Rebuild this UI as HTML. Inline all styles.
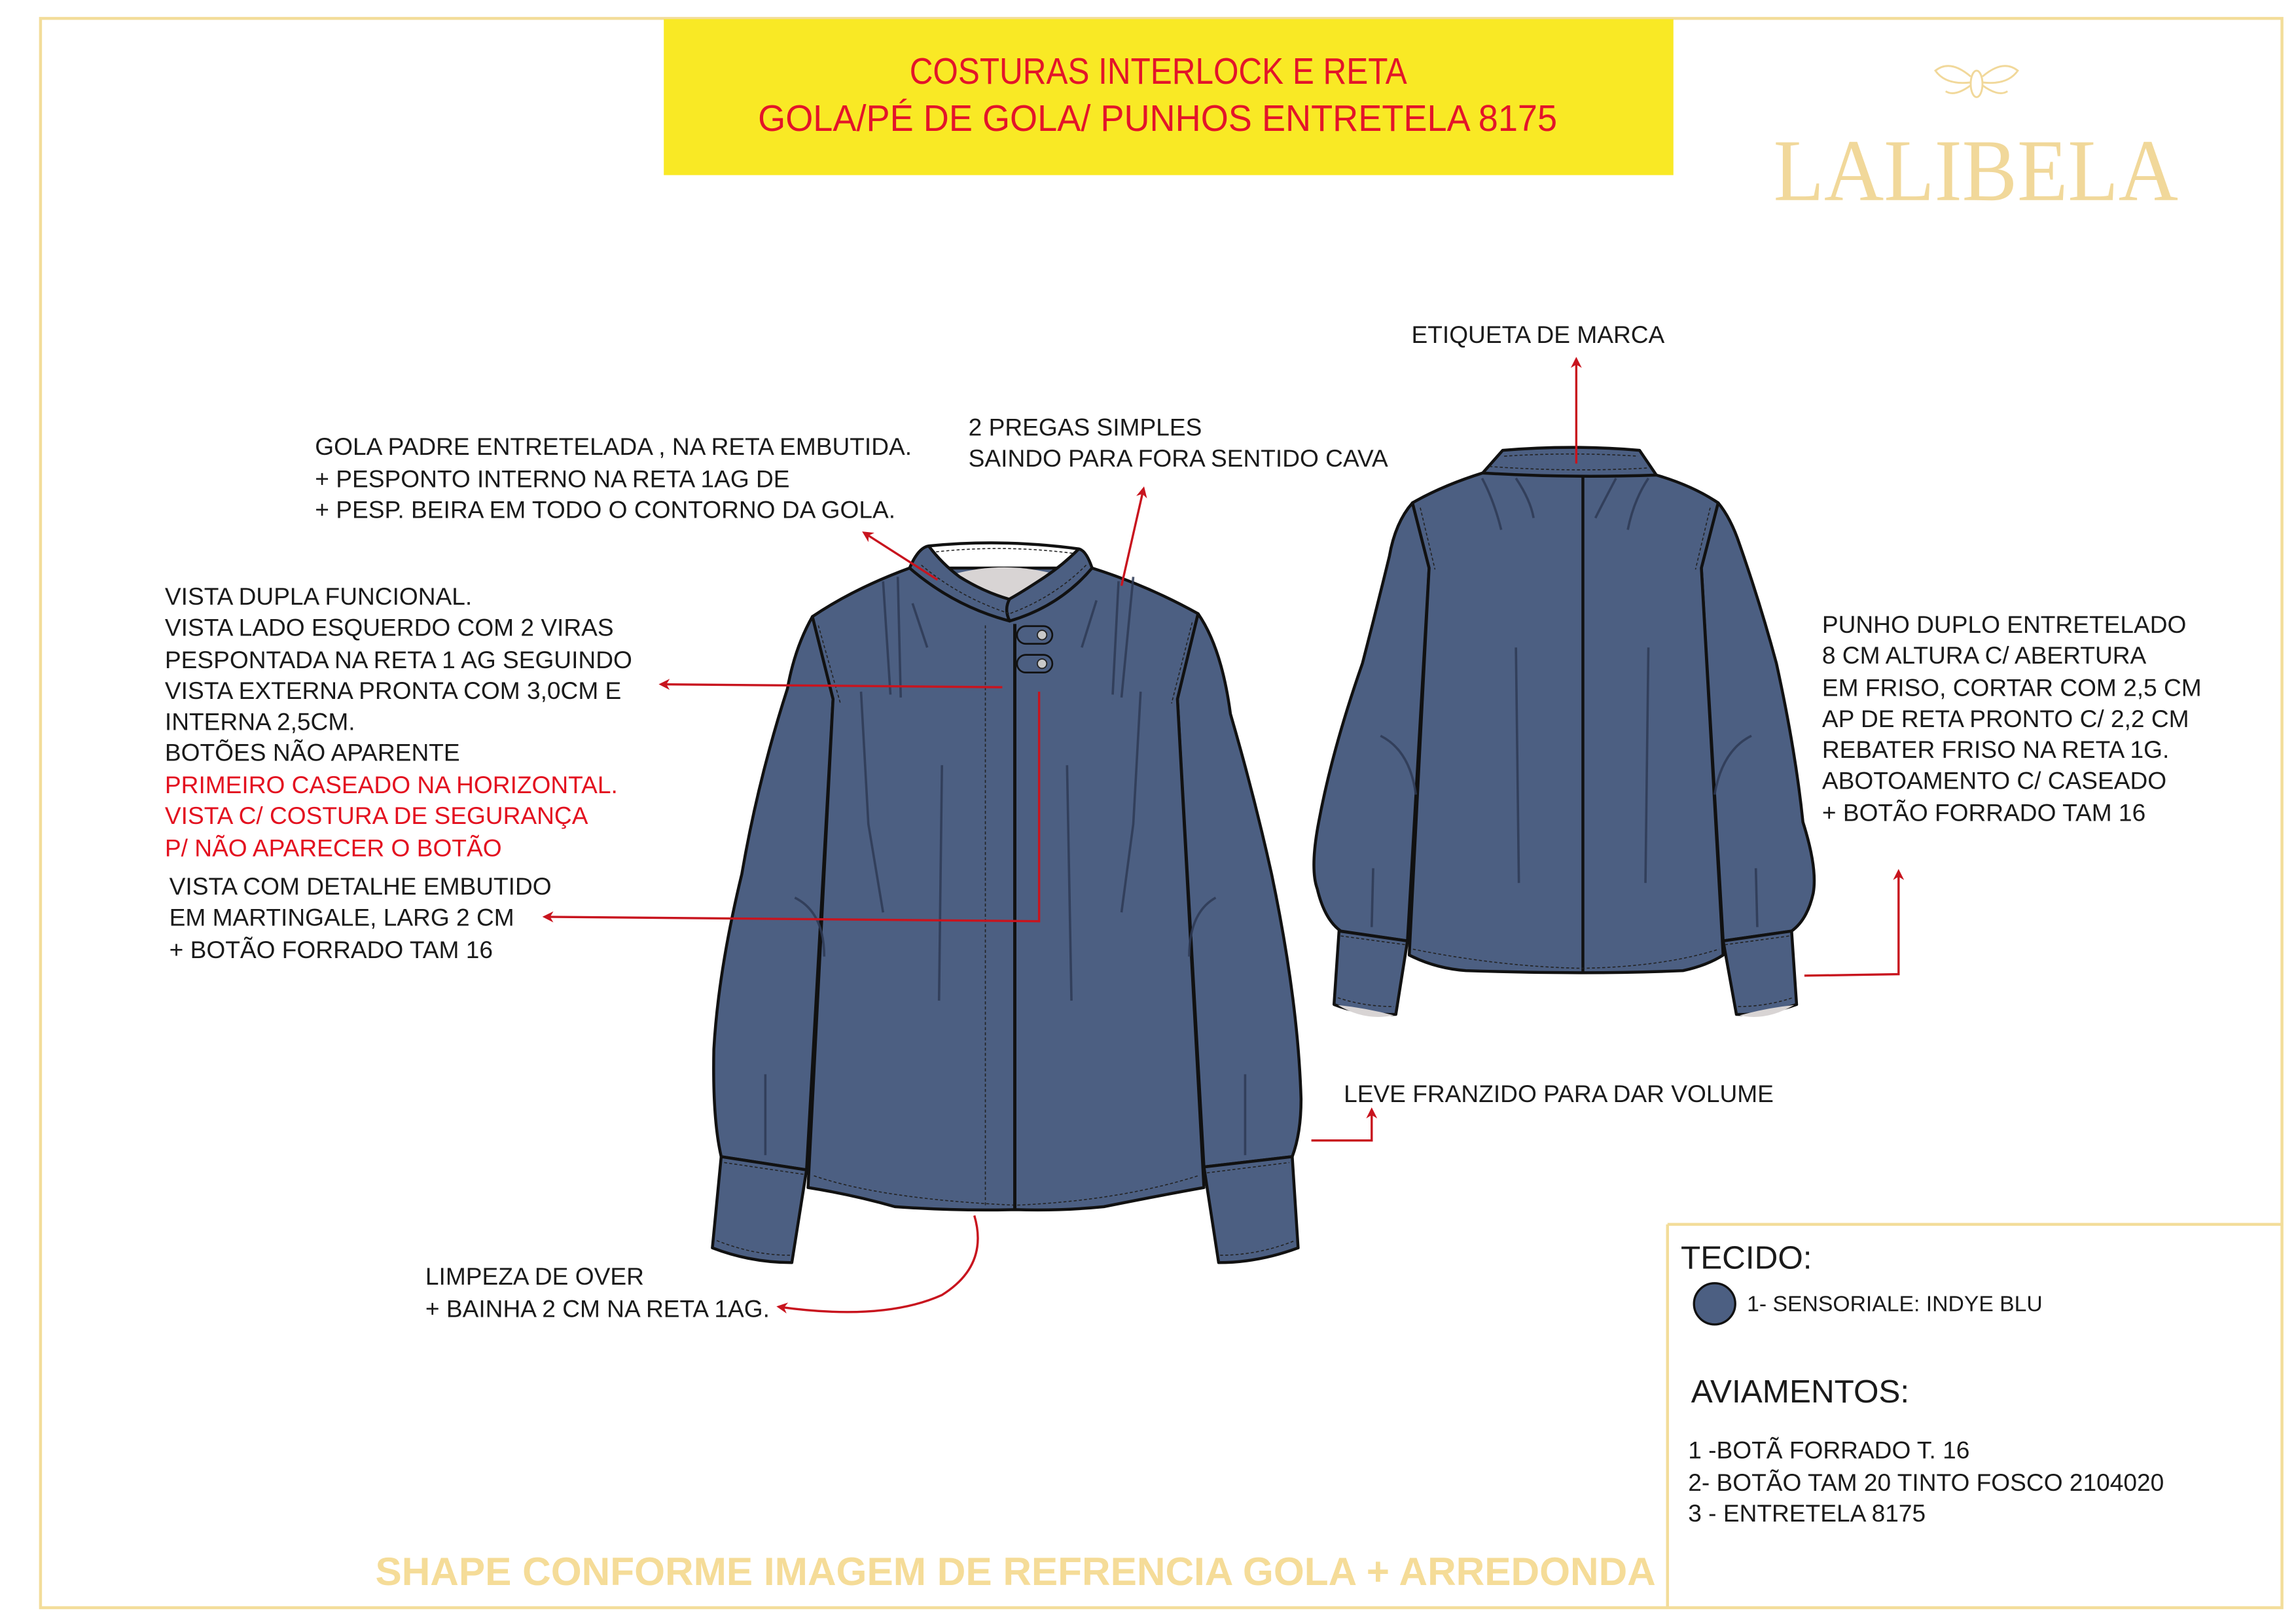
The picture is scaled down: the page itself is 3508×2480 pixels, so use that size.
<!DOCTYPE html>
<html><head><meta charset="utf-8">
<style>
html,body{margin:0;padding:0;background:#fff;}
svg{display:block;}
text{font-family:"Liberation Sans",Arial,sans-serif;}
text.serif{font-family:"Liberation Serif",serif;}
</style></head>
<body>
<svg width="3508" height="2480" viewBox="0 0 1560 1102.9" xmlns="http://www.w3.org/2000/svg">
<defs>
<marker id="ah" viewBox="0 0 10 10" refX="8" refY="5" markerWidth="5" markerHeight="5" orient="auto-start-reverse">
<path d="M0,0 L10,5 L0,10 L3,5 Z" fill="#c8141e"/>
</marker>
</defs>
<rect x="0" y="0" width="1560" height="1103" fill="#fff"/>
<rect x="27.5" y="12.5" width="1523" height="1080" fill="none" stroke="#f3dd9a" stroke-width="2"/>
<line x1="1133" y1="832" x2="1133" y2="1093" stroke="#f3dd9a" stroke-width="2"/>
<line x1="1133" y1="832" x2="1551" y2="832" stroke="#f3dd9a" stroke-width="2"/>

<rect x="451" y="13" width="686" height="106" fill="#f9e925"/>
<text x="618" y="57" font-size="25" fill="#e3142a" textLength="338" lengthAdjust="spacingAndGlyphs">COSTURAS INTERLOCK E RETA</text>
<text x="515" y="89" font-size="25" fill="#e3142a" textLength="543" lengthAdjust="spacingAndGlyphs">GOLA/PÉ DE GOLA/ PUNHOS ENTRETELA 8175</text>

<g fill="none" stroke="#f1d89a" stroke-width="1.3">
<ellipse cx="1343" cy="57" rx="4" ry="9"/>
<path d="M1339,52 Q1325,40 1315,48 Q1322,58 1339,56"/>
<path d="M1347,52 Q1361,40 1371,48 Q1364,58 1347,56"/>
<path d="M1339,58 Q1328,66 1322,62"/><path d="M1347,58 Q1358,66 1364,62"/>
</g>
<text class="serif" x="1205" y="136" font-size="60" fill="#f1d89a" textLength="275" lengthAdjust="spacingAndGlyphs">LALIBELA</text>

<!-- FRONT JACKET -->
<g stroke="#111" stroke-width="2" stroke-linejoin="round" fill="#4c5f82">
<path d="M552,419 Q540,440 535,468 Q515,530 504,594 Q488,660 485,713 Q484,760 490,786 L548,795 L566,475 Z"/>
<path d="M814,417 Q830,440 836,485 Q852,540 864,594 Q882,680 884,747 Q884,770 878,786 L818,793 L800,475 Z"/>
<path d="M618,386 Q580,400 552,419 L566,475 L549,807 Q580,812 608,820 Q650,823 690,822 Q720,823 750,820 Q790,812 818,807 L800,475 L814,417 Q780,398 742,386 Z"/>
<path d="M490,786 L548,795 L538,858 Q510,858 484,848 Z"/>
<path d="M818,793 L878,786 L882,848 Q855,858 828,858 Z"/>
</g>
<path d="M645,391 Q682,380 720,391 Q705,402 688,410 Q668,402 645,391 Z" fill="#d8d4d4"/>
<g stroke="#111" stroke-width="2" fill="#4c5f82" stroke-linejoin="round">
<path d="M618,386 Q624,372 631,371 Q640,383 652,392 Q668,402 685,407 Q690,414 686,422 Q648,412 618,386 Z"/>
<path d="M742,386 Q738,374 733,373 Q722,384 710,392 Q695,402 686,407 Q682,414 686,422 Q720,412 742,386 Z"/>
<path d="M631,371 Q682,366 733,373" fill="none"/>
</g>
<g fill="none" stroke="#222" stroke-width="0.7" stroke-dasharray="2,1.5">
<path d="M626,384 Q652,406 686,417"/><path d="M738,384 Q716,406 686,417"/>
<path d="M636,375 Q682,370 729,376"/>
<line x1="669.5" y1="425" x2="669.5" y2="820"/>
<path d="M553,799 Q600,815 690,819 Q760,816 814,799"/>
<path d="M492,790 L546,798"/><path d="M820,797 L876,790"/>
<path d="M487,843 Q512,853 537,853"/><path d="M829,853 Q855,853 880,843"/>
<path d="M556,425 L571,478"/><path d="M810,423 L796,478"/>
</g>
<line x1="689.5" y1="424" x2="689.5" y2="822" stroke="#111" stroke-width="2.2"/>
<g stroke="#111" stroke-width="1.2" fill="#4c5f82">
<rect x="691" y="425.5" width="24" height="12" rx="6"/>
<rect x="691" y="445" width="24" height="12" rx="6"/>
</g>
<circle cx="708" cy="431.5" r="3.2" fill="#c9c9c9" stroke="#222" stroke-width="0.8"/>
<circle cx="708" cy="451" r="3.2" fill="#c9c9c9" stroke="#222" stroke-width="0.8"/>
<g fill="none" stroke="#2e3a55" stroke-width="1.6" opacity="0.85">
<path d="M600,395 L605,472"/><path d="M610,392 L612,474"/>
<path d="M760,395 L756,472"/><path d="M770,392 L762,474"/>
<path d="M620,410 L630,440"/><path d="M745,408 L735,440"/>
<path d="M585,470 L590,560 L600,620"/><path d="M640,520 L638,680"/>
<path d="M775,470 L770,560 L762,620"/><path d="M725,520 L728,680"/>
<path d="M540,610 Q560,620 560,650"/><path d="M826,610 Q808,620 808,650"/>
<path d="M520,730 L520,785"/><path d="M846,730 L846,785"/>
</g>

<!-- BACK JACKET -->
<g stroke="#111" stroke-width="2" stroke-linejoin="round" fill="#4c5f82">
<path d="M959.7,341.7 Q948,355 944,378 Q935,415 925.7,450.8 Q905,510 896,558.6 Q890,590 895,604 Q900,625 911,632.7 L956.3,639.4 L971,386 Z"/>
<path d="M1167.4,341.7 Q1176,352 1182,370 Q1196,410 1207,450.8 Q1220,510 1225,558.6 Q1235,590 1232,607 Q1228,625 1217.3,632.7 L1170.8,639.4 L1156,386 Z"/>
<path d="M1007.4,321.4 Q980,330 959.7,341.7 L971,386 L957.5,649 Q975,658 996,659.6 Q1040,661 1075.5,661 Q1110,661 1143.5,659.6 Q1160,656 1170.8,649 L1156,386 L1167.4,341.7 Q1150,330 1125.4,322.8 Z"/>
<path d="M1007.4,321.4 L1021,306 Q1068,302 1114,306 L1125.4,322.8 Q1066,325 1007.4,321.4 Z"/>
<path d="M909.8,632.7 L956.3,639.4 L948.4,689.3 Q925,690 906.4,682.6 Z"/>
<path d="M1170.8,639.4 L1217.3,632.7 L1220.7,682.6 Q1200,690 1179.8,689.3 Z"/>
</g>
<path d="M909,683 Q927,694 947,690 Q928,685 909,683Z" fill="#d8d4d4"/>
<path d="M1182,690 Q1200,694 1219,683 Q1200,685 1182,690Z" fill="#d8d4d4"/>
<line x1="1075.5" y1="324" x2="1075.5" y2="661" stroke="#111" stroke-width="2"/>
<g fill="none" stroke="#222" stroke-width="0.7" stroke-dasharray="2,1.5">
<path d="M1022,310 Q1068,307 1113,310"/><path d="M1012,317 Q1068,321 1120,318"/>
<path d="M960,645 Q1020,657 1075,658 Q1130,657 1168,645"/>
<path d="M911,636 L955,642"/><path d="M1172,642 L1216,636"/>
<path d="M909,678 Q927,684 947,684"/><path d="M1181,684 Q1200,684 1218,678"/>
<path d="M965,345 L975,387"/><path d="M1162,345 L1152,387"/>
</g>
<g fill="none" stroke="#2e3a55" stroke-width="1.6" opacity="0.85">
<path d="M1007,325 Q1015,340 1020,360"/><path d="M1030,325 Q1040,340 1042,352"/>
<path d="M1120,325 Q1110,340 1106,360"/><path d="M1098,325 Q1090,340 1084,352"/>
<path d="M938,500 Q958,510 962,540"/><path d="M1190,500 Q1170,510 1165,540"/>
<path d="M933,590 L932,630"/><path d="M1193,590 L1194,630"/>
<path d="M1030,440 L1032,600"/><path d="M1120,440 L1118,600"/>
</g>

<g fill="none" stroke="#c8141e" stroke-width="1.5">
<path d="M637,394 L587,362" marker-end="url(#ah)"/>
<path d="M762,398 L777,332" marker-end="url(#ah)"/>
<path d="M681,467 L449,465" marker-end="url(#ah)"/>
<path d="M706,470 L706,626 L370,623" marker-end="url(#ah)"/>
<path d="M1071,315 L1071,244" marker-end="url(#ah)"/>
<path d="M1226,663 L1290,662 L1290,592" marker-end="url(#ah)"/>
<path d="M891,775 L932,775 L932,754" marker-end="url(#ah)"/>
<path d="M662,826 Q672,860 640,880 Q600,898 529,888" marker-end="url(#ah)"/>
</g>

<g font-size="16.5" fill="#1a1a1a">
<text x="214" y="309">GOLA  PADRE ENTRETELADA ,  NA RETA EMBUTIDA.</text>
<text x="214" y="331">+ PESPONTO INTERNO NA RETA 1AG DE</text>
<text x="214" y="352">+ PESP. BEIRA EM TODO O CONTORNO DA GOLA.</text>
<text x="658" y="296">2 PREGAS SIMPLES</text>
<text x="658" y="317">SAINDO PARA FORA SENTIDO CAVA</text>
<text x="112" y="411">VISTA DUPLA FUNCIONAL.</text>
<text x="112" y="432">VISTA LADO ESQUERDO COM 2 VIRAS</text>
<text x="112" y="454">PESPONTADA NA RETA 1 AG SEGUINDO</text>
<text x="112" y="475">VISTA EXTERNA PRONTA COM 3,0CM E</text>
<text x="112" y="496">INTERNA 2,5CM.</text>
<text x="112" y="517">BOTÕES NÃO APARENTE</text>
<text x="112" y="539" fill="#e3101f">PRIMEIRO CASEADO NA HORIZONTAL.</text>
<text x="112" y="560" fill="#e3101f">VISTA C/ COSTURA DE SEGURANÇA</text>
<text x="112" y="582" fill="#e3101f">P/ NÃO APARECER O BOTÃO</text>
<text x="115" y="608">VISTA COM DETALHE EMBUTIDO</text>
<text x="115" y="629">EM MARTINGALE, LARG 2 CM</text>
<text x="115" y="651"> + BOTÃO FORRADO TAM 16</text>
<text x="959" y="233">ETIQUETA  DE MARCA</text>
<text x="1238" y="430">PUNHO DUPLO ENTRETELADO</text>
<text x="1238" y="451">8 CM ALTURA  C/ ABERTURA</text>
<text x="1238" y="473">EM FRISO, CORTAR COM 2,5 CM</text>
<text x="1238" y="494">AP DE RETA PRONTO C/ 2,2 CM</text>
<text x="1238" y="515">REBATER FRISO NA RETA 1G.</text>
<text x="1238" y="536">ABOTOAMENTO C/ CASEADO</text>
<text x="1238" y="558"> + BOTÃO FORRADO TAM 16</text>
<text x="913" y="749">LEVE FRANZIDO PARA DAR VOLUME</text>
<text x="289" y="873">LIMPEZA DE OVER</text>
<text x="289" y="895">+ BAINHA 2 CM NA RETA 1AG.</text>
</g>

<text x="255" y="1077" font-size="27" font-weight="bold" fill="#f5dc98" textLength="870" lengthAdjust="spacingAndGlyphs">SHAPE CONFORME IMAGEM DE REFRENCIA GOLA + ARREDONDA</text>

<text x="1142" y="862" font-size="22" fill="#1a1a1a">TECIDO:</text>
<circle cx="1165" cy="886" r="14" fill="#4c5f82" stroke="#111" stroke-width="1.5"/>
<text x="1187" y="891" font-size="15" fill="#1a1a1a">1- SENSORIALE: INDYE BLU</text>
<text x="1149" y="953" font-size="22" fill="#1a1a1a">AVIAMENTOS:</text>
<g font-size="16.5" fill="#1a1a1a">
<text x="1147" y="991">1 -BOTÃ FORRADO T. 16</text>
<text x="1147" y="1013">2- BOTÃO TAM 20 TINTO FOSCO 2104020</text>
<text x="1147" y="1034">3 - ENTRETELA 8175</text>
</g>
</svg>
</body></html>
